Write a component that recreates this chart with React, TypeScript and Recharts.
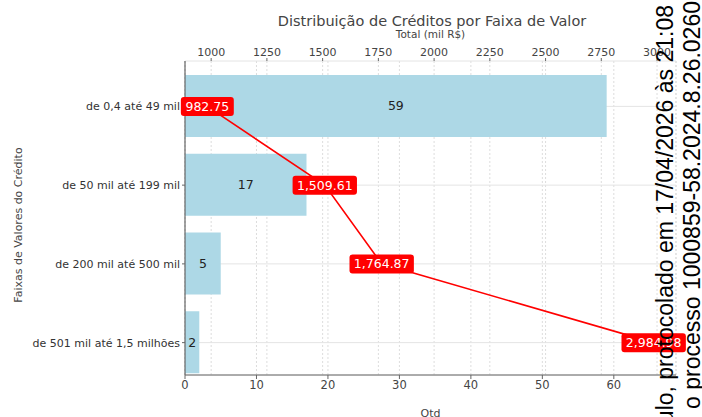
import {
  ComposedChart,
  Bar,
  Line,
  XAxis,
  YAxis,
  CartesianGrid,
  LabelList,
} from "recharts";

const categories = [
  "de 0,4 até 49 mil",
  "de 50 mil até 199 mil",
  "de 200 mil até 500 mil",
  "de 501 mil até 1,5 milhões",
];
const qtd = [59, 17, 5, 2];
const totals = [982.75, 1509.61, 1764.87, 2984.98];
const qtdTicks = [0, 10, 20, 30, 40, 50, 60];
const totalTicks = [1000, 1250, 1500, 1750, 2000, 2250, 2500, 2750, 3000];

const data = categories.map((faixa, i) => ({
  faixa,
  qtd: qtd[i],
  total: totals[i],
}));

const font = "DejaVu Sans, sans-serif";
const textColor = "#444";

const fmt = (v: number) =>
  v.toLocaleString("en-US", { minimumFractionDigits: 2, maximumFractionDigits: 2 });

const TotalLabel = (props: any) => {
  const { x, y, value } = props;
  const text = fmt(value);
  const digits = text.replace(/[.,]/g, "").length;
  const w = digits * 7.63 + (text.length - digits) * 3.8 + 11;
  const h = 19;
  return (
    <g>
      <rect x={x - w / 2} y={y - h / 2} width={w} height={h} rx={3} fill="#f00" />
      <text
        x={x}
        y={y + 4.5}
        textAnchor="middle"
        fill="#fff"
        fontSize={12.5}
        fontFamily={font}
      >
        {text}
      </text>
    </g>
  );
};

const YLabel = () => (
  <text
    transform="translate(22, 225) rotate(-90)"
    textAnchor="middle"
    fill={textColor}
    fontSize={11}
    fontFamily={font}
  >
    Faixas de Valores do Crédito
  </text>
);

export default function App() {
  return (
    <div
      style={{
        position: "absolute",
        left: 0,
        top: 0,
        width: 702,
        height: 417,
        background: "#fff",
        overflow: "hidden",
        fontFamily: font,
      }}
    >
      <ComposedChart
        width={702}
        height={417}
        data={data}
        layout="vertical"
        margin={{ top: 0, right: 26, bottom: 0, left: 0 }}
      >
        <CartesianGrid
          xAxisId="bottom"
          stroke="#ddd"
          strokeDasharray="2 2"
          horizontal={false}
        />
        <CartesianGrid
          xAxisId="top"
          stroke="#ddd"
          strokeDasharray="2 2"
          vertical
          horizontal={false}
        />
        <CartesianGrid xAxisId="bottom" stroke="#e4e4e4" vertical={false} />
        <XAxis
          xAxisId="bottom"
          type="number"
          orientation="bottom"
          domain={[0, 68.7]}
          ticks={qtdTicks}
          height={42}
          axisLine={{ stroke: "#666", strokeWidth: 1.2 }}
          tickLine={{ stroke: "#666" }}
          tickSize={4}
          tick={{ fill: textColor, fontSize: 11.5, fontFamily: font }}
          label={{
            value: "Qtd",
            position: "insideBottom",
            offset: 0,
            fill: textColor,
            fontSize: 11,
            fontFamily: font,
          }}
        />
        <XAxis
          xAxisId="top"
          type="number"
          orientation="top"
          domain={[882.6, 3085.1]}
          ticks={totalTicks}
          height={61}
          axisLine={false}
          tickLine={{ stroke: "#666" }}
          tickSize={3}
          tick={{ fill: textColor, fontSize: 11, fontFamily: font }}
          label={{
            value: "Total (mil R$)",
            position: "insideTop",
            offset: 31,
            fill: textColor,
            fontSize: 10.5,
            fontFamily: font,
          }}
        />
        <YAxis
          type="category"
          dataKey="faixa"
          width={185}
          padding={{ top: 6, bottom: -7 }}
          axisLine={{ stroke: "#666", strokeWidth: 1.2 }}
          tickLine={{ stroke: "#666" }}
          tickSize={3}
          tick={{ fill: "#333", fontSize: 11, fontFamily: font }}
          label={<YLabel />}
        />
        <Bar
          xAxisId="bottom"
          dataKey="qtd"
          fill="#add8e6"
          barSize={62}
          isAnimationActive={false}
        >
          <LabelList
            dataKey="qtd"
            position="center"
            fill="#222"
            fontSize={12.5}
            fontFamily={font}
          />
        </Bar>
        <Line
          xAxisId="top"
          dataKey="total"
          stroke="#f00"
          strokeWidth={1.6}
          dot={false}
          isAnimationActive={false}
        >
          <LabelList dataKey="total" content={<TotalLabel />} />
        </Line>
      </ComposedChart>
      <svg
        width={702}
        height={417}
        style={{ position: "absolute", left: 0, top: 0, pointerEvents: "none" }}
      >
        <text
          x={432}
          y={26}
          textAnchor="middle"
          fill="#444"
          fontSize={14.5}
          fontFamily={font}
        >
          Distribuição de Créditos por Faixa de Valor
        </text>
        <text
          transform="translate(673, 5) rotate(-90)"
          textAnchor="end"
          fill="#000"
          fontSize={23}
          fontFamily="Liberation Sans, Arial, sans-serif"
        >
          ulo, protocolado em 17/04/2026 às 21:08
        </text>
        <text
          transform="translate(700, 1) rotate(-90)"
          textAnchor="end"
          fill="#000"
          fontSize={23}
          fontFamily="Liberation Sans, Arial, sans-serif"
        >
          o processo 1000859-58.2024.8.26.0260
        </text>
      </svg>
    </div>
  );
}
